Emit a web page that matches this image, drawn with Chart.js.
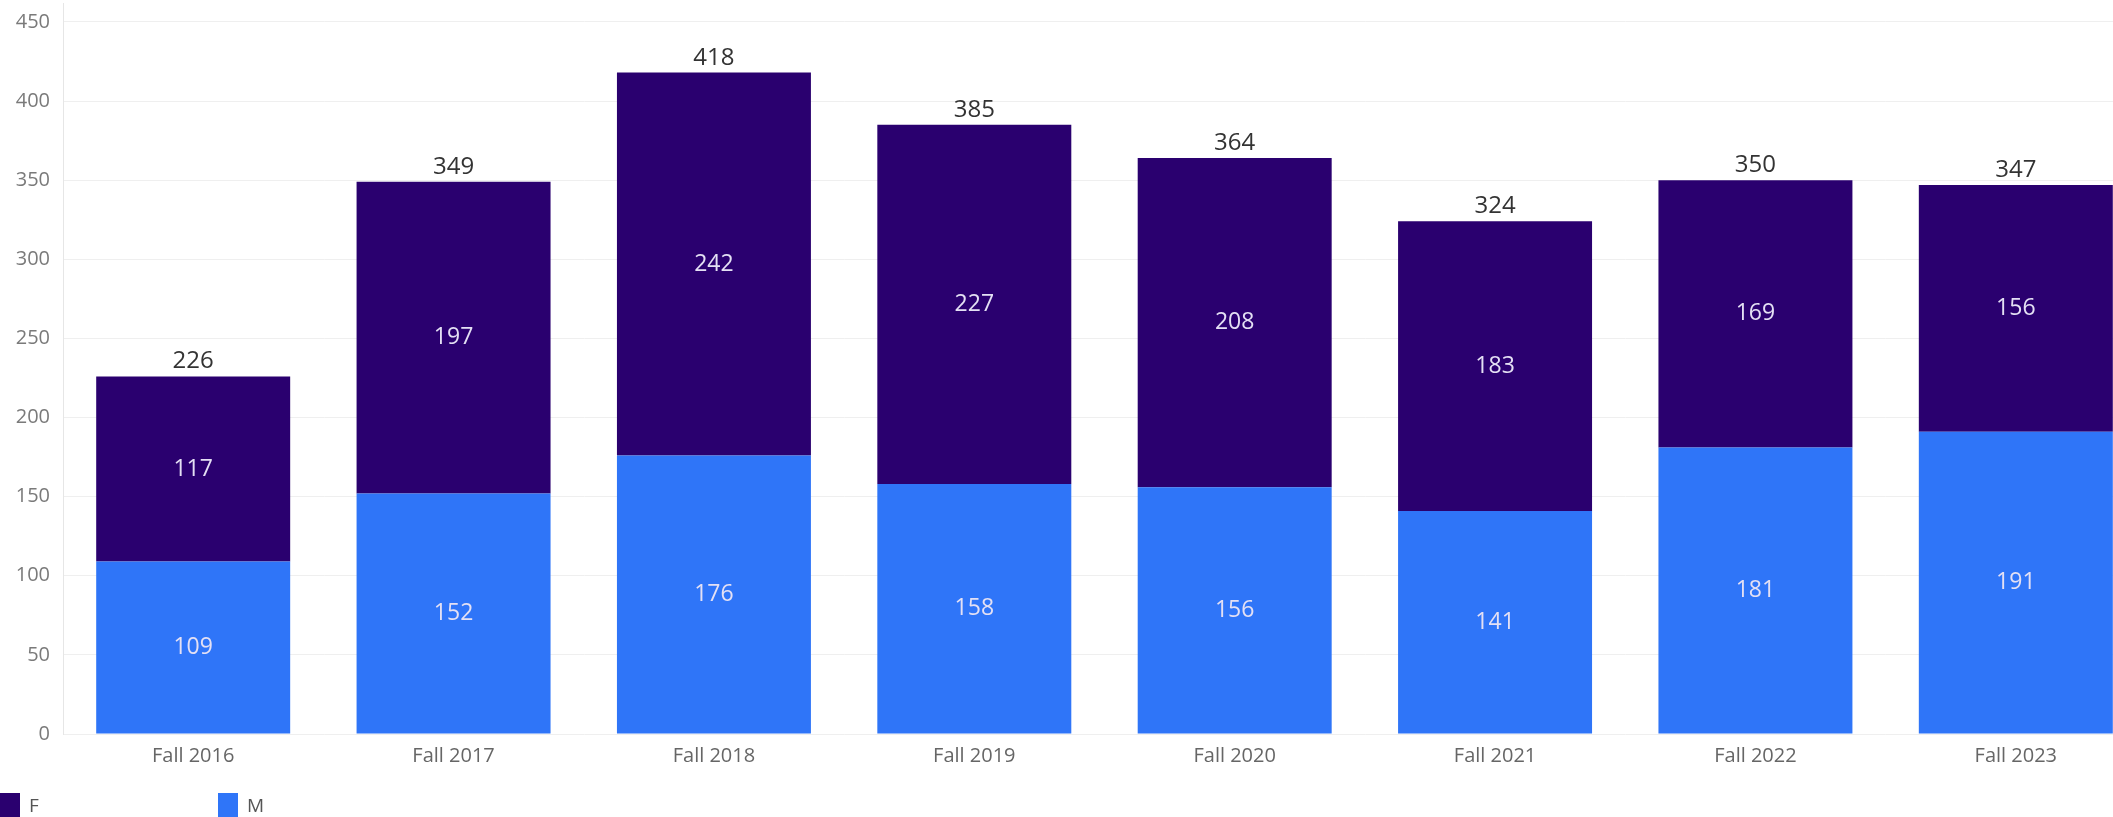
<!DOCTYPE html>
<html>
<head>
<meta charset="utf-8">
<script src="https://cdn.jsdelivr.net/npm/chart.js@4.4.1/dist/chart.umd.min.js"></script>
<style>
  html, body { margin: 0; padding: 0; background: #fff; overflow: hidden; }
  #wrap { position: relative; width: 2150px; height: 817px; }
  .legend { position: absolute; top: 793px; display: flex; align-items: flex-start; font-family: "Open Sans", sans-serif; font-size: 19px; color: #555; }
  .legend .sw { width: 20px; height: 26px; margin-right: 9px; }
  .legend span { line-height: 24px; }
</style>
</head>
<body>
<div id="wrap">
  <canvas id="chart"></canvas>
  <div class="legend" style="left:0"><div class="sw" style="background:#2a006f"></div><span>F</span></div>
  <div class="legend" style="left:218px"><div class="sw" style="background:#2f75f8"></div><span>M</span></div>
</div>
<script>
const categories = ["Fall 2016", "Fall 2017", "Fall 2018", "Fall 2019", "Fall 2020", "Fall 2021", "Fall 2022", "Fall 2023"];
const femaleCounts = [117, 197, 242, 227, 208, 183, 169, 156];
const maleCounts = [109, 152, 176, 158, 156, 141, 181, 191];
const yTicks = [0, 50, 100, 150, 200, 250, 300, 350, 400, 450];

const FONT = '"Open Sans", sans-serif';

// writes segment values inside the bars and the totals on top
const barLabels = {
  id: "barLabels",
  afterDatasetsDraw(chart) {
    const ctx = chart.ctx;
    ctx.save();
    ctx.textAlign = "center";
    chart.data.datasets.forEach((ds, di) => {
      const meta = chart.getDatasetMeta(di);
      meta.data.forEach((bar, i) => {
        const mid = (bar.y + bar.base) / 2;
        ctx.font = `23px ${FONT}`;
        ctx.fillStyle = "#e4e0f4";
        ctx.textBaseline = "middle";
        ctx.fillText(String(ds.data[i]), bar.x, mid);
      });
    });
    const topMeta = chart.getDatasetMeta(chart.data.datasets.length - 1);
    topMeta.data.forEach((bar, i) => {
      const total = maleCounts[i] + femaleCounts[i];
      ctx.font = `24px ${FONT}`;
      ctx.fillStyle = "#333";
      ctx.textBaseline = "alphabetic";
      ctx.fillText(String(total), bar.x, bar.y - 8);
    });
    ctx.restore();
  },
};

const canvas = document.getElementById("chart");
canvas.width = 2150;
canvas.height = 817;

new Chart(canvas, {
  type: "bar",
  data: {
    labels: categories,
    datasets: [
      { label: "M", data: maleCounts, backgroundColor: "#2f75f8" },
      { label: "F", data: femaleCounts, backgroundColor: "#2a006f" },
    ],
  },
  options: {
    responsive: false,
    animation: false,
    events: [],
    layout: { padding: { left: 0, right: 4, top: 3, bottom: 51 } },
    datasets: { bar: { categoryPercentage: 0.745, barPercentage: 1 } },
    plugins: { legend: { display: false }, tooltip: { enabled: false } },
    scales: {
      x: {
        stacked: true,
        afterFit(s) { s.height = 32; },
        grid: { display: false, drawTicks: false },
        border: { display: false },
        ticks: { color: "#666", font: { family: FONT, size: 20 }, padding: 10 },
      },
      y: {
        stacked: true,
        min: 0,
        max: 462,
        afterFit(s) { s.width = 63; s.paddingTop = 0; s.paddingBottom = 0; },
        afterBuildTicks(s) { s.ticks = yTicks.map((v) => ({ value: v })); },
        grid: { color: "#efefef", drawTicks: false },
        border: { display: true, color: "#e6e6e6" },
        ticks: { color: "#7a7a7a", font: { family: FONT, size: 20 }, padding: 13 },
      },
    },
  },
  plugins: [barLabels],
});
</script>
</body>
</html>
